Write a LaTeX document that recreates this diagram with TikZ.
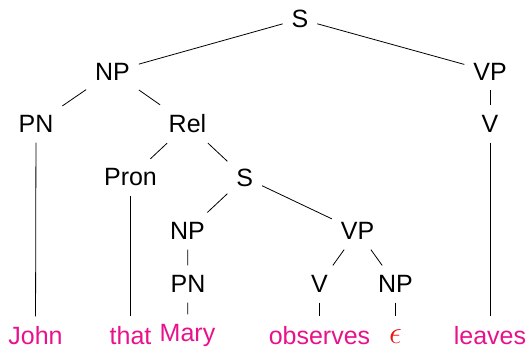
\documentclass[tikz,border=0pt]{standalone}
\usepackage{fontspec}
\usepackage{graphicx}
\setmainfont{Liberation Sans}
\definecolor{leafpink}{RGB}{232,18,140}
\definecolor{epsred}{RGB}{235,20,20}
\begin{document}
\begin{tikzpicture}[x=1bp,y=-1bp,
  every node/.style={font=\fontsize{25bp}{30bp}\selectfont, inner xsep=9bp, inner ysep=10bp, outer sep=0pt},
  cat/.style={text=black},
  leaf/.style={text=leafpink, inner ysep=1bp},
  edge/.style={draw=black, line width=0.8bp},
  toleaf/.style={edge, shorten >=9bp}]
\useasboundingbox (0,0) rectangle (530,348);
% categories
\node[cat] (S1) at (300,19) {S};
\node[cat] (NP1) at (112.5,71.5) {NP};
\node[cat] (VP1) at (490,71.5) {VP};
\node[cat] (PN1) at (36,124) {PN};
\node[cat] (Rel) at (187.5,124) {Rel};
\node[cat] (V1) at (490,124) {V};
\node[cat] (Pron) at (130.5,177.5) {Pron};
\node[cat] (S2) at (244.7,177.5) {S};
\node[cat] (NP2) at (187.5,231) {NP};
\node[cat] (VP2) at (357.5,231) {VP};
\node[cat] (PN2) at (188,284) {PN};
\node[cat] (V2) at (319.5,284) {V};
\node[cat] (NP3) at (395.5,284) {NP};
% leaves
\node[leaf] (John) at (35.5,335.5) {John};
\node[leaf] (that) at (130.5,335.5) {that};
\node[leaf] (Mary) at (187.5,335.5) {Mary};
\node[leaf] (observes) at (319.5,335.5) {observes};
\node[leaf, text=epsred] (eps) at (395.5,336.5) {\scalebox{1.3}{$\epsilon$}};
\node[leaf] (leaves) at (490,335.5) {leaves};
% edges
\draw[edge] (S1) -- (NP1);
\draw[edge] (S1) -- (VP1);
\draw[edge] (NP1) -- (PN1);
\draw[edge] (NP1) -- (Rel);
\draw[edge] (VP1) -- (V1);
\draw[toleaf] (PN1) -- (John);
\draw[edge] (Rel) -- (Pron);
\draw[edge] (Rel) -- (S2);
\draw[toleaf] (V1) -- (leaves);
\draw[toleaf] (Pron) -- (that);
\draw[edge] (S2) -- (NP2);
\draw[edge] (S2) -- (VP2);
\draw[edge] (NP2) -- (PN2);
\draw[edge] (VP2) -- (V2);
\draw[edge] (VP2) -- (NP3);
\draw[toleaf] (PN2) -- (Mary);
\draw[toleaf] (V2) -- (observes);
\draw[edge, shorten >=13bp] (NP3) -- (eps);
\end{tikzpicture}
\end{document}
